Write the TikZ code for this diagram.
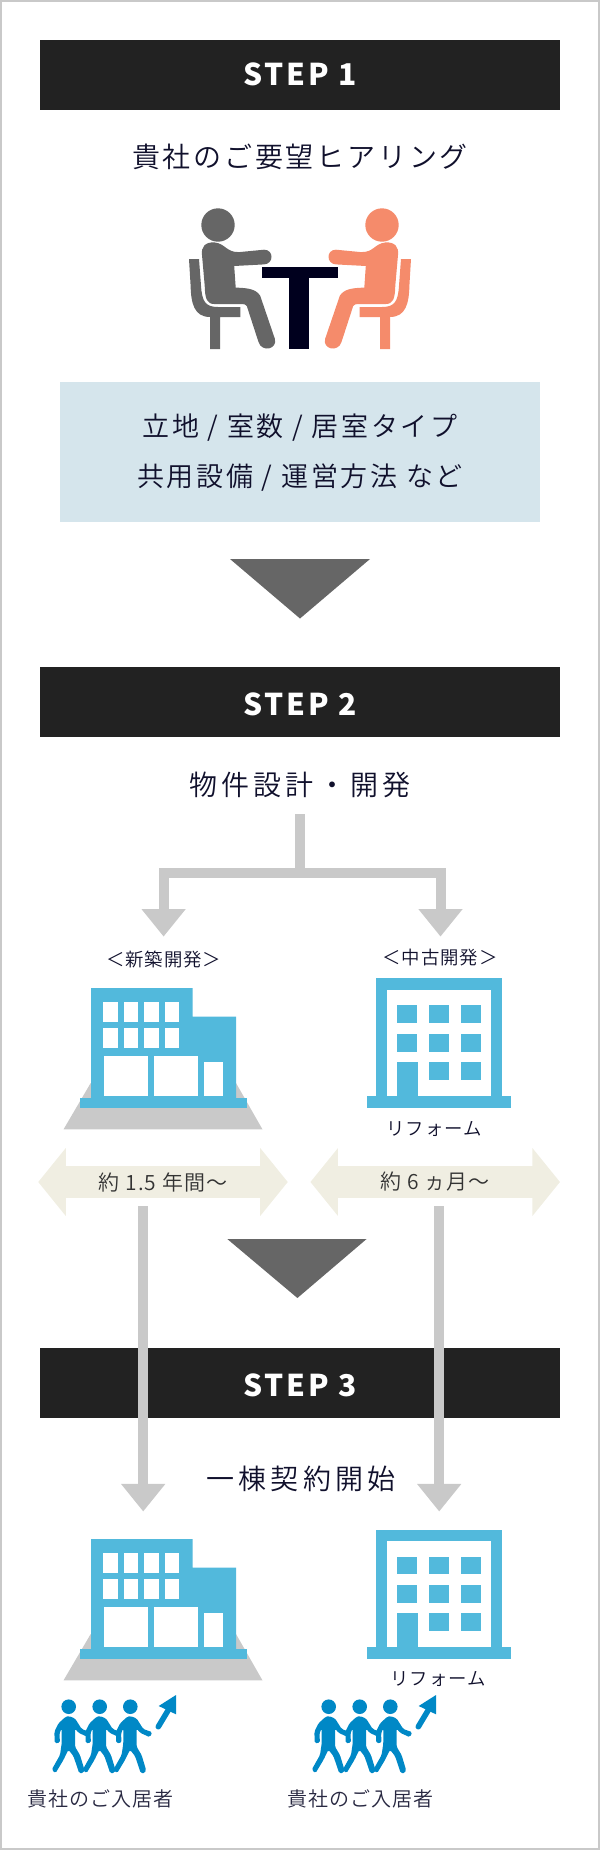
\documentclass[tikz,border=0pt]{standalone}
\usepackage{fontspec}
\setmainfont{Noto Sans CJK JP DemiLight}[LetterSpace=5]
\newfontfamily\stepfont{Noto Sans CJK JP}[LetterSpace=9]
\newfontfamily\headfont{Noto Sans CJK JP DemiLight}[LetterSpace=10]
\newfontfamily\wideheadfont{Noto Sans CJK JP DemiLight}[LetterSpace=15]
\usetikzlibrary{shapes,arrows.meta,positioning}
\definecolor{inknavy}{HTML}{10102C}
\definecolor{tablenavy}{HTML}{00001E}
\definecolor{barblack}{HTML}{222222}
\definecolor{linegray}{HTML}{C9C9C9}
\definecolor{markgray}{HTML}{666666}
\definecolor{noteblue}{HTML}{D5E5EC}
\definecolor{bldgblue}{HTML}{52B9DC}
\definecolor{walkblue}{HTML}{0088C6}
\definecolor{timecream}{HTML}{F0EEE2}
\definecolor{guestorange}{HTML}{F58B6B}
\tikzset{
    stepbar/.style={fill=barblack,text=white,minimum width=520pt,minimum height=70pt,inner sep=0pt,font=\stepfont\bfseries\fontsize{30}{34}\selectfont},
    steplow/.style={text height=30pt,text depth=4pt},
    headline/.style={text=inknavy,inner sep=0pt,font=\headfont\fontsize{28}{34}\selectfont},
    wideline/.style={text=inknavy,inner sep=0pt,font=\wideheadfont\fontsize{28}{34}\selectfont},
    noteline/.style={text=inknavy,inner sep=0pt,font=\headfont\fontsize{27}{32}\selectfont},
    smalltext/.style={text=inknavy,inner sep=0pt,font=\fontsize{18.4}{22}\selectfont},
    guesttext/.style={text=inknavy!90,inner sep=0pt,font=\fontsize{20}{24}\selectfont},
    timearrow/.style={double arrow,fill=timecream,text=black!80,inner sep=0pt,minimum height=249.5pt,minimum width=68pt,double arrow head extend=11.4pt,double arrow tip angle=102,font=\fontsize{21}{24}\selectfont},
    flowline/.style={draw=linegray,line width=10pt,-{Triangle[width=42.5pt,length=27.6pt]},line join=miter},
    sitter/.pic={
        \fill[pic actions] (218,225) circle (16.7);
        \fill[pic actions] (214.3,242.4) .. controls (225.8,243.6) and (226,252.5) .. (239.2,252.1) -- (264,249.7)
            .. controls (274,249.5) and (274,264) .. (264,264.4) -- (234.2,266) -- (235.7,287.6)
            .. controls (248,288) and (256,289) .. (260.2,295.8) -- (274.8,338.6)
            .. controls (278,349) and (262,353) .. (258.5,342) -- (246.8,306)
            .. controls (246,304.5) and (244,304) .. (241.9,304) -- (214.3,304)
            .. controls (207,304) and (205,299) .. (204.7,285.6) -- (202,255)
            .. controls (201,247) and (205,242) .. (214.3,242.4) -- cycle;
        \fill[pic actions] (189,259) -- (199,259) -- (201,285.6) .. controls (202,301) and (205,307) .. (218,307)
            -- (240.3,307) -- (240.3,317) -- (220,317) -- (220,349) -- (210,349) -- (210,317)
            .. controls (194,317) and (191,303) .. (190.6,285.6) -- cycle;
    },
    newbldg/.pic={
        \fill[linegray] (63.5,1129.4) -- (262.5,1129.4) -- (236,1083) -- (90.7,1083) -- cycle;
        \fill[bldgblue] (91,1097.8) -- (91,988) -- (192.5,988) -- (192.5,1016.6) -- (236,1016.6) -- (236,1097.8) -- cycle;
        \fill[bldgblue] (80,1097.8) rectangle (246.8,1107.6);
        \foreach \wx in {103,123.6,144,164.6} {
            \fill[white] (\wx,1001.9) rectangle ++(14.5,19.6);
            \fill[white] (\wx,1028) rectangle ++(14.5,20.4);
        }
        \fill[white] (103.7,1055.8) rectangle (148,1096);
        \fill[white] (153.8,1055.8) rectangle (198.2,1096);
        \fill[white] (204,1062.3) rectangle (223,1096);
    },
    oldbldg/.pic={
        \fill[bldgblue] (376.2,978.2) rectangle (501.7,1100);
        \fill[white] (387,990) rectangle (491,1100);
        \fill[bldgblue] (367,1095.7) rectangle (511,1107.6);
        \foreach \wx in {396.9,429,460.8} {
            \fill[bldgblue] (\wx,1005.2) rectangle ++(20.4,17.8);
            \fill[bldgblue] (\wx,1033.7) rectangle ++(20.4,18);
        }
        \fill[bldgblue] (429,1061.9) rectangle ++(20.4,17.9);
        \fill[bldgblue] (460.8,1061.9) rectangle ++(20.4,17.9);
        \fill[bldgblue] (396.9,1061.9) rectangle (417.5,1097);
    },
    walker/.pic={
        \fill[walkblue] (0,0) circle (7.3);
        \fill[walkblue,rounded corners=1.6pt] (0,9.3) -- (6.3,11.7) -- (13,22.3) -- (22,25.5) -- (19.5,30.5) -- (9.7,26) -- (6.3,21.7)
            -- (6.3,40) -- (11.3,48.3) -- (15.7,63) -- (14.5,66.5) -- (10.5,66.5) -- (4.7,49.3) -- (-0.3,43)
            -- (-5.3,53.3) -- (-13.2,66.5) -- (-17,63) -- (-8.7,48.3) -- (-7,36.7) -- (-7,21.7) -- (-9.3,26.7)
            -- (-8.7,36) -- (-14,36.5) -- (-14.3,25) -- (-10.3,16.7) -- (-3,10) -- cycle;
    },
    walkgroup/.pic={
        \pic at (68.7,1706.7) {walker};
        \pic at (99.7,1706.7) {walker};
        \pic at (130.3,1706.7) {walker};
        \draw[walkblue,line width=5.6pt,line cap=round] (158.3,1726.7) -- (168.3,1710);
        \fill[walkblue] (176,1695) -- (158.7,1706) -- (176,1714.3) -- cycle;
    }
}

\begin{document}
\begin{tikzpicture}[x=1pt,y=-1pt]
    \useasboundingbox (0,0) rectangle (600,1850);
    \draw [linegray,line width=2pt] (1,1) rectangle (599,1849);

    \node [stepbar] (stepone) at (300,74.7) {STEP 1};
    \node [headline] (hearing) at (300,157) {貴社のご要望ヒアリング};
    \pic [fill=markgray] {sitter};
    \pic [fill=guestorange,xscale=-1] at (600,0) {sitter};
    \fill [tablenavy] (262,267) rectangle (337.5,278);
    \fill [tablenavy] (289,278) rectangle (309,349);
    \fill [noteblue] (60,382) rectangle (540,522);
    \node [noteline] (noteone) at (300,427.6) {立地 / 室数 / 居室タイプ};
    \node [noteline] (notetwo) at (300,477.4) {共用設備 / 運営方法 など};
    \fill [markgray] (230,559) -- (370,559) -- (300,618.5) -- cycle;

    \node [stepbar,steplow] (steptwo) at (300,702) {STEP 2};
    \node [wideline] (develop) at (300,785) {物件設計・開発};
    \coordinate (devtop) at (300,814);
    \coordinate (devsplit) at (300,872.6);
    \coordinate (newtip) at (163.6,936.6);
    \coordinate (oldtip) at (440.5,936.6);
    \draw [draw=linegray,line width=10pt] (devtop) -- (devsplit);
    \draw [flowline] (devsplit) -| (newtip);
    \draw [flowline] (devsplit) -| (oldtip);
    \node [smalltext] (newlabel) at (163.6,959) {＜新築開発＞};
    \node [smalltext] (oldlabel) at (440,958) {＜中古開発＞};
    \pic {newbldg};
    \pic {oldbldg};
    \node [smalltext] (reformone) at (434,1129) {リフォーム};
    \node [timearrow] (newtime) at (163,1182) {約 1.5 年間〜};
    \node [timearrow] (oldtime) at (435.2,1182) {約 6 ヵ月〜};
    \fill [markgray] (227.3,1239) -- (366.6,1239) -- (297.4,1298) -- cycle;

    \node [stepbar,steplow] (stepthree) at (300,1383.4) {STEP 3};
    \coordinate (newfrom) at (143.2,1206);
    \coordinate (newend) at (143.2,1511.5);
    \coordinate (oldfrom) at (439.2,1206);
    \coordinate (oldend) at (439.2,1511.5);
    \draw [flowline] (newfrom) -- (newend);
    \draw [flowline] (oldfrom) -- (oldend);
    \node [wideline] (contract) at (301,1479) {一棟契約開始};
    \pic at (0,551) {newbldg};
    \pic at (0,551.3) {oldbldg};
    \node [smalltext] (reformtwo) at (438,1678.5) {リフォーム};
    \pic {walkgroup};
    \pic at (260,0) {walkgroup};
    \node [guesttext] (guestone) at (100.4,1798.7) {貴社のご入居者};
    \node [guesttext] (guesttwo) at (360,1798.7) {貴社のご入居者};
\end{tikzpicture}
\end{document}
